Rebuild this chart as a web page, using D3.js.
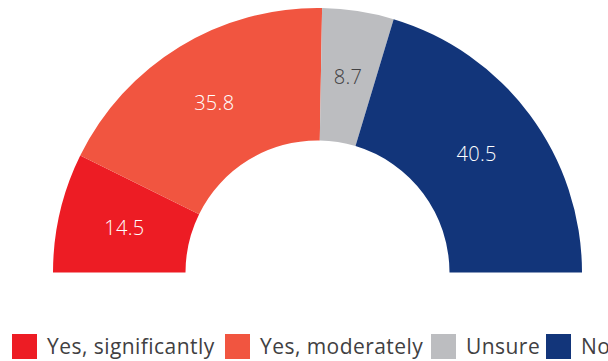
<!DOCTYPE html>
<html>
<head>
<meta charset="utf-8">
<script src="https://cdn.jsdelivr.net/npm/d3@7"></script>
<style>
  html, body { margin: 0; padding: 0; background: #fff; }
  svg { display: block; }
</style>
</head>
<body>
<svg id="chart" width="608" height="361"></svg>
<script>
// Survey responses (percent)
const categories = ["Yes, significantly", "Yes, moderately", "Unsure", "No"];
const values = [14.5, 35.8, 8.7, 40.5];
const colors = ["#ED1C24", "#F15540", "#BCBDC0", "#12357A"];
const labelColors = ["#ffffff", "#ffffff", "#414042", "#ffffff"];

const svg = d3.select("#chart");
const cx = 317.5, cy = 272.5;
const outerR = 264.5, innerR = 132;
const font = "'Open Sans', 'DejaVu Sans', sans-serif";

const data = categories.map((c, i) => ({ category: c, value: values[i], i }));

const pie = d3.pie()
  .sort(null)
  .value(d => d.value)
  .startAngle(-Math.PI / 2)
  .endAngle(Math.PI / 2);

const arc = d3.arc().innerRadius(innerR).outerRadius(outerR);

const g = svg.append("g").attr("transform", `translate(${cx},${cy})`);
const arcs = pie(data);

g.selectAll("path.slice")
  .data(arcs)
  .join("path")
  .attr("class", "slice")
  .attr("d", arc)
  .attr("fill", d => colors[d.data.i]);

g.selectAll("text.value")
  .data(arcs)
  .join("text")
  .attr("class", "value")
  .attr("transform", d => `translate(${arc.centroid(d)})`)
  .attr("text-anchor", "middle")
  .attr("dy", "0.36em")
  .attr("font-family", font)
  .attr("font-size", 20)
  .attr("font-weight", 300)
  .attr("letter-spacing", 0.3)
  .attr("fill", d => labelColors[d.data.i])
  .text(d => d.data.value.toFixed(1));

// Legend along the bottom
const legendX = d3.scaleOrdinal()
  .domain(categories)
  .range([12, 225, 431, 546]);

const legend = svg.append("g").attr("class", "legend");
const items = legend.selectAll("g")
  .data(categories)
  .join("g")
  .attr("transform", d => `translate(${legendX(d)},334)`);

items.append("rect")
  .attr("width", 25)
  .attr("height", 25)
  .attr("fill", (d, i) => colors[i]);

items.append("text")
  .attr("x", 35)
  .attr("y", 19.5)
  .attr("font-family", font)
  .attr("font-size", 21)
  .attr("letter-spacing", 0.45)
  .attr("fill", "#414042")
  .text(d => d);
</script>
</body>
</html>
